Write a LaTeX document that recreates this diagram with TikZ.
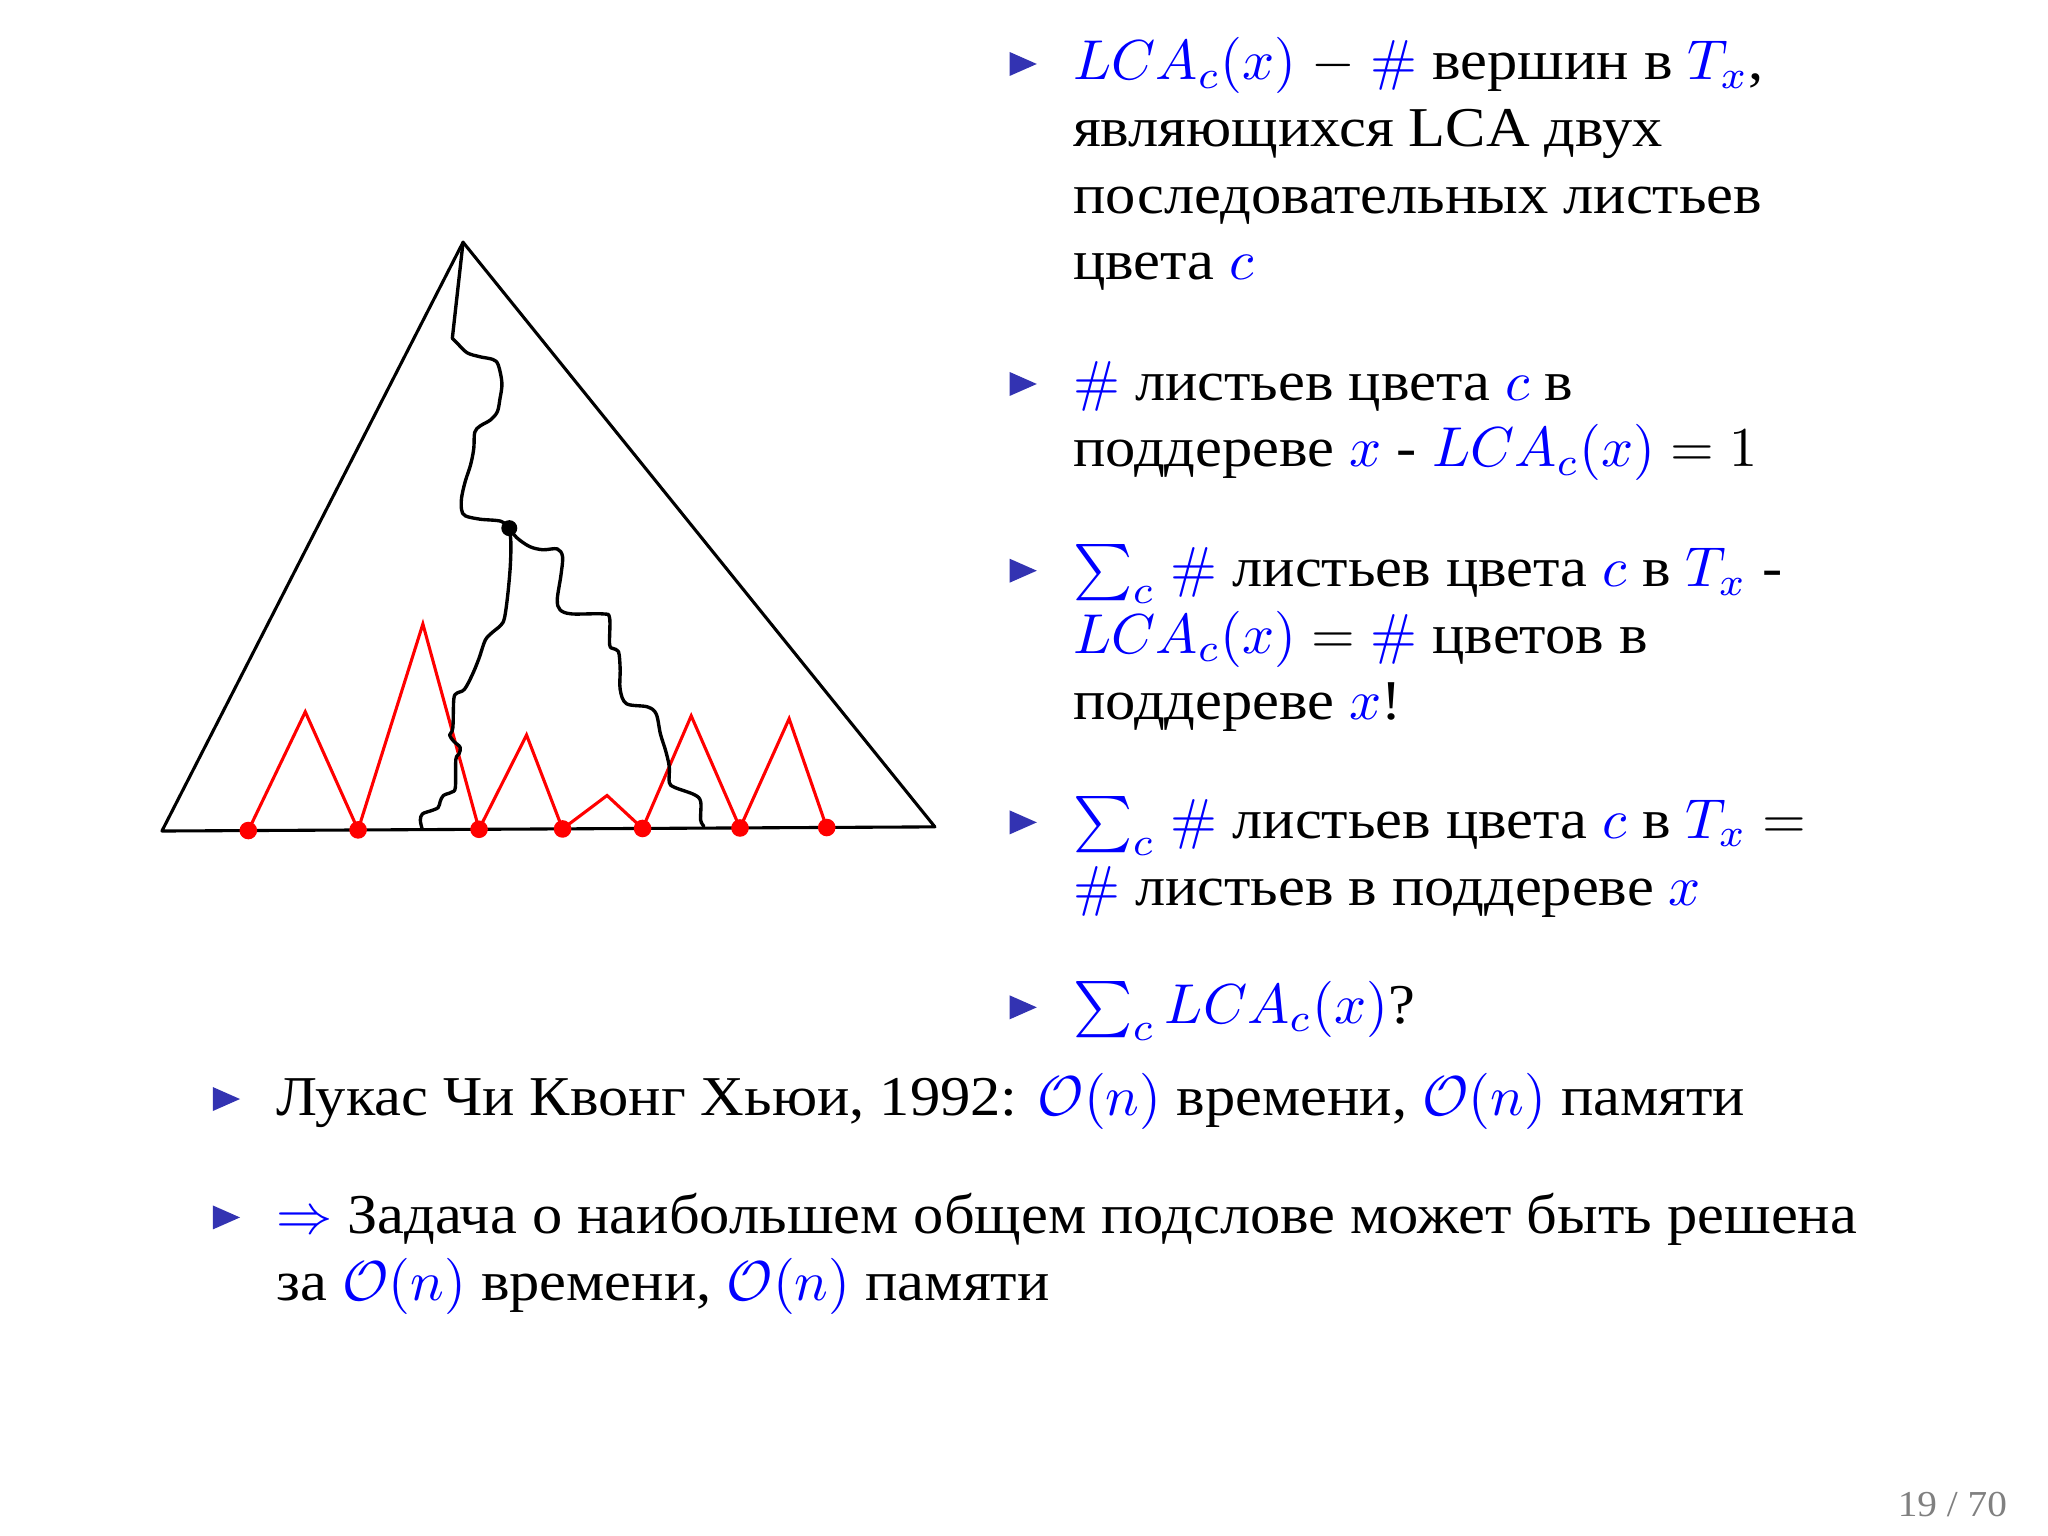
\documentclass[tikz,border=0pt]{standalone}
\usepackage[no-math]{fontspec}
\setmainfont{Liberation Serif}[FakeStretch=1.075]
\usepackage{xcolor}
\definecolor{structblue}{RGB}{51,51,178}
\definecolor{pagegray}{RGB}{128,128,128}
\newcommand{\blu}[1]{\textcolor{blue}{#1}}

\begin{document}
\begin{tikzpicture}[x=1mm, y=-1mm,
    txt/.style={anchor=base west, align=left, inner sep=0pt, font=\fontsize{10}{11.85}\selectfont},
    leaf/.style={circle, fill=red, inner sep=0pt, minimum size=1.1mm}]
  \fill[white] (0,0) rectangle (128,96);
  \useasboundingbox (0,0) rectangle (128,96);

  % the tree
  \coordinate (top) at (28.94,15.14);
  \coordinate (bl) at (10.12,51.94);
  \coordinate (br) at (58.43,51.68);
  \draw[line width=0.55pt, line join=round] (top) -- (bl) -- (br) -- cycle;

  % leaves and the red zigzag
  \foreach \i/\lx/\ly in {1/15.52/51.91, 2/22.38/51.87, 3/29.94/51.83, 4/35.16/51.81,
                          5/40.16/51.78, 6/46.25/51.75, 7/51.67/51.72}
    \coordinate (l\i) at (\lx,\ly);
  \foreach \i/\px/\py in {1/19.08/44.49, 2/26.43/39.00, 3/32.91/45.94, 4/37.94/49.72,
                          5/43.20/44.74, 6/49.32/44.92}
    \coordinate (p\i) at (\px,\py);
  \draw[red, line width=0.55pt, line join=miter]
    (l1) -- (p1) -- (l2) -- (p2) -- (l3) -- (p3) -- (l4) -- (p4) -- (l5) -- (p5) -- (l6) -- (p6) -- (l7);

  % paths to x
  \coordinate (x) at (31.83,33.01);
  \draw[line width=0.6pt, line cap=round, line join=round] (top) -- (28.27,21.15)
    plot[smooth, tension=0.55] coordinates {(28.27,21.15) (28.53,21.40) (29.18,22.04) (30.00,22.30)
      (30.81,22.47) (31.14,22.81) (31.37,23.95) (31.24,24.97) (31.08,25.74) (30.65,26.25)
      (30.00,26.63) (29.67,27.02) (29.61,28.04) (29.41,29.06) (29.08,30.08) (28.85,31.10)
      (28.85,31.86) (29.08,32.24) (30.00,32.45) (31.31,32.58) (x)};
  \draw[line width=0.6pt, line cap=round, line join=round]
    plot[smooth, tension=0.55] coordinates {(x) (31.93,33.90) (31.89,35.43) (31.73,37.22)
      (31.53,38.62) (31.30,39.08) (30.72,39.57) (30.32,40.03) (29.93,41.17) (29.51,42.19)
      (29.02,43.09) (28.53,43.34) (28.36,43.72) (28.30,45.51) (28.10,45.94) (28.36,46.33)
      (28.76,46.71) (28.69,47.12) (28.49,47.47) (28.46,49.21) (28.23,49.51) (27.71,49.72)
      (27.51,50.10) (27.38,50.48) (26.89,50.69) (26.40,50.87) (26.27,51.25) (26.37,51.76)};
  \draw[line width=0.6pt, line cap=round, line join=round]
    plot[smooth, tension=0.55] coordinates {(x) (32.29,33.60) (33.10,34.16) (33.92,34.36)
      (34.83,34.31) (35.16,34.80) (35.06,35.94) (34.83,37.47) (35.00,38.11) (35.72,38.37)
      (37.68,38.37) (38.10,38.62) (38.10,40.28) (38.33,40.54) (38.66,40.74) (38.76,41.81)
      (38.76,43.09) (39.15,43.98) (40.46,44.18) (41.01,44.62) (41.28,45.89) (41.60,46.91)
      (41.83,47.93) (41.83,48.90) (42.16,49.21) (43.40,49.67) (43.79,50.10) (43.79,51.25)
      (43.99,51.63)};
  \fill (x) circle (0.5);
  \foreach \i in {1,...,7}
    \node[leaf] (leaf\i) at (l\i) {};

  % bullets
  \foreach \bx/\by in {63.1/5.00, 63.1/25.00, 63.1/36.67, 63.1/52.40, 63.1/63.96,
                       13.3/69.69, 13.3/77.09}
    \fill[structblue] (\bx,\by-1.75) -- (\bx+1.7,\by-1.0) -- (\bx,\by-0.25) -- cycle;

  % the right column (nodes sit on their last line)
  \node[txt] (fact1) at (67,17.49) {\blu{$LCA_c(x)$} $-$ \blu{$\#$} вершин в \blu{$T_x$},\\
    являющихся LCA двух\\ последовательных листьев\\ цвета \blu{$c$}};
  \node[txt] (fact2) at (67,29.17) {\blu{$\#$} листьев цвета \blu{$c$} в\\
    поддереве \blu{$x$} - \blu{$LCA_c(x)$} $= 1$};
  \node[txt] (fact3) at (67,45.00) {\blu{$\sum_c$} \blu{$\#$} листьев цвета \blu{$c$} в \blu{$T_x$} -\\
    \blu{$LCA_c(x)$} $=$ \blu{$\#$} цветов в\\ поддереве \blu{$x$}!};
  \node[txt] (fact4) at (67,56.57) {\blu{$\sum_c$} \blu{$\#$} листьев цвета \blu{$c$} в \blu{$T_x$} $=$\\
    \blu{$\#$} листьев в поддереве \blu{$x$}};
  \node[txt] (fact5) at (67,63.96) {\blu{$\sum_c LCA_c(x)$}?};

  % below the picture
  \node[txt] (res1) at (17.2,69.69) {Лукас Чи Квонг Хьюи, 1992: \blu{$\mathcal{O}(n)$} времени,
    \blu{$\mathcal{O}(n)$} памяти};
  \node[txt] (res2) at (17.2,81.26) {\blu{$\Rightarrow$} Задача о наибольшем общем подслове может быть решена\\
    за \blu{$\mathcal{O}(n)$} времени, \blu{$\mathcal{O}(n)$} памяти};

  \node[anchor=base east, inner sep=0pt, text=pagegray, font=\fontsize{6.5}{7}\selectfont]
    (pageno) at (125.5,94.8) {19 / 70};
\end{tikzpicture}
\end{document}
